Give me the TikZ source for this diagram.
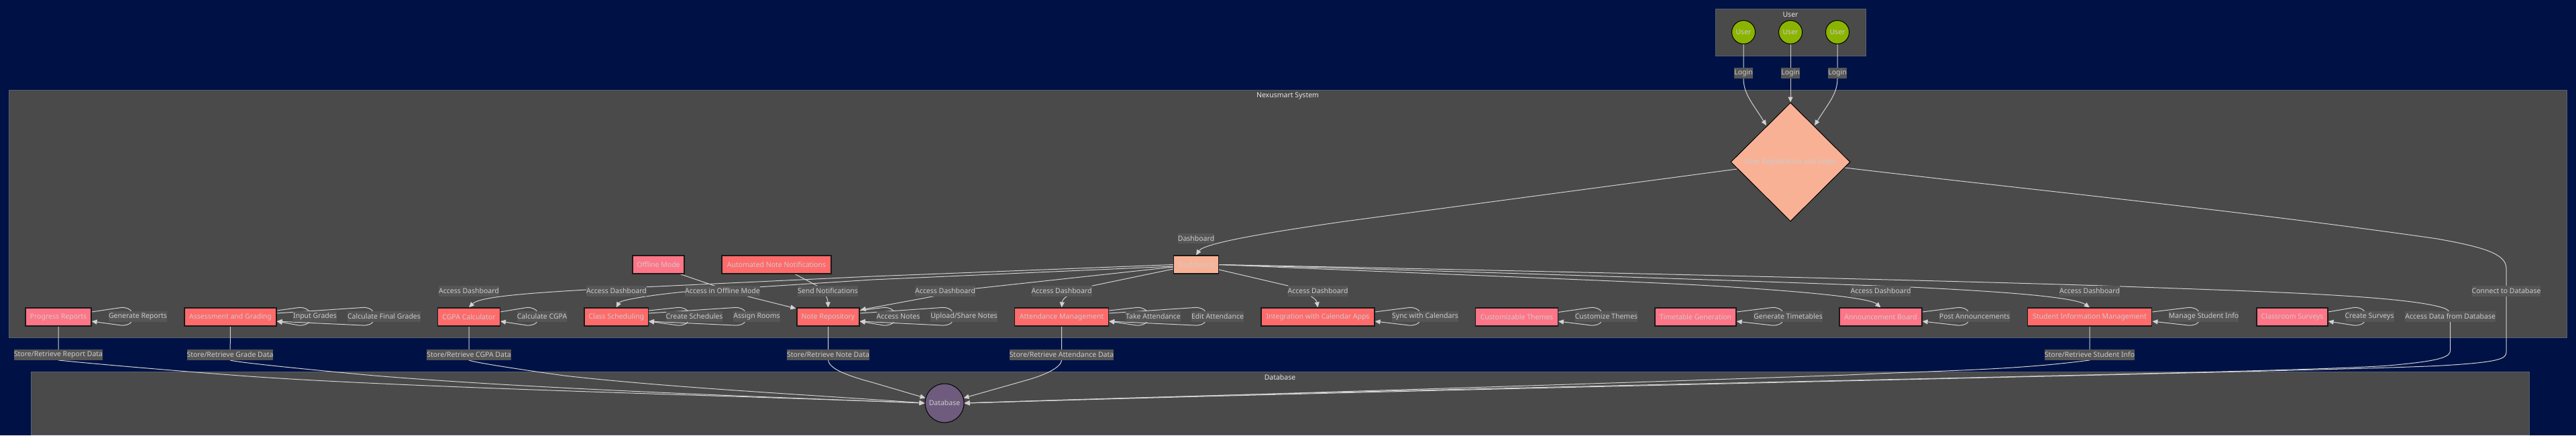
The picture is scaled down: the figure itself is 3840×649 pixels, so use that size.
\documentclass[tikz,border=0pt]{standalone}
\usepackage{fontspec}
\setmainfont{Noto Sans}
\usetikzlibrary{shapes.geometric,arrows.meta,calc}
\definecolor{bgblue}{HTML}{001245}
\definecolor{clfill}{HTML}{494A49}
\definecolor{clline}{HTML}{586070}
\definecolor{edgec}{HTML}{D2D2D2}
\definecolor{txt}{HTML}{CCCCCC}
\definecolor{lblfill}{HTML}{565656}
\definecolor{red1}{HTML}{FF6B6B}
\definecolor{pink1}{HTML}{FF7588}
\definecolor{peach}{HTML}{F9B196}
\definecolor{grn}{HTML}{8AB400}
\definecolor{purp}{HTML}{6E5B7E}
\pgfdeclarelayer{bg}
\pgfdeclarelayer{edges}
\pgfsetlayers{bg,edges,main}
\tikzset{
  cluster/.style={draw=clline,fill=clfill,line width=0.8pt},
  ctitle/.style={text=white!90!black,font=\fontsize{10.5}{12}\selectfont,inner sep=0pt},
  box/.style={draw=black!90,line width=1.2pt,minimum height=27pt,inner sep=0pt,text=txt,font=\fontsize{10.5}{12}\selectfont},
  redbox/.style={box,fill=red1},
  pinkbox/.style={box,fill=pink1},
  peachbox/.style={box,fill=peach},
  roundn/.style={circle,draw=black,line width=1pt,inner sep=0pt,text=txt,font=\fontsize{10.5}{12}\selectfont},
  lbl/.style={fill=lblfill,text=txt,inner xsep=0pt,inner ysep=0pt,minimum height=15.5pt,font=\fontsize{10.5}{12}\selectfont},
  edge/.style={draw=edgec,line width=1pt},
  arr/.style={edge,-{Triangle[length=8pt,width=7pt,fill=edgec]}}
}
% self loop: node, label, turn offset, start offset
\newcommand{\sloop}[4]{%
  \draw[arr] ($(#1.east)+(0,#4)$) -- ($(#2.center)+(#3-16,-13.5)$)
    .. controls ($(#2.center)+(#3-8,-14)$) and ($(#2.center)+(#3-2,-11)$) .. ($(#2.center)+(#3,-7)$)
    -- ($(#2.center)+(#3,7)$)
    .. controls ($(#2.center)+(#3-2,11)$) and ($(#2.center)+(#3-8,13.5)$) .. ($(#2.center)+(#3-16,13)$)
    -- ($(#1.east)+(0,6.5)$);}
\begin{document}
\begin{tikzpicture}[x=1pt,y=-1pt]
\useasboundingbox (0,0) rectangle (3840,649);
\begin{pgfonlayer}{bg}
  \fill[bgblue] (0,0) rectangle (3840,649);
  \draw[cluster] (2557,13) rectangle (2781,83);
  \draw[cluster] (13,134) rectangle (3826,503);
  \draw[cluster] (46,554) rectangle (3770,648);
\end{pgfonlayer}
\node[ctitle] (tu) at (2669,22) {User};
\node[ctitle] (tn) at (1919.5,143) {Nexusmart System};
\node[ctitle] (td) at (1908,563) {Database};
% users
\foreach \n/\x in {u1/2599,u2/2669,u3/2739}
  \node[roundn,fill=grn,minimum size=35pt] (\n) at (\x,48) {User};
\node[lbl] (lu1) at (2599,109) {Login};
\node[lbl] (lu2) at (2669,109) {Login};
\node[lbl] (lu3) at (2739,109) {Login};
% diamond
\node[diamond,draw=black,line width=1pt,fill=peach,inner sep=0pt,minimum width=178pt,minimum height=177pt,text=txt,font=\fontsize{10.5}{12}\selectfont] (dm) at (2669,241.5) {User Registration and Login};
% boxes
\node[peachbox,minimum width=67pt] (dash) at (1783,394.5) {Dashboard};
\node[pinkbox,minimum width=77pt] (of) at (981.5,394.5) {Offline Mode};
\node[redbox,minimum width=163pt] (an) at (1157.5,394.5) {Automated Note Notifications};
\node[pinkbox,minimum width=98pt] (pr) at (87,472.5) {Progress Reports};
\node[redbox,minimum width=137pt] (ag) at (343.5,472.5) {Assessment and Grading};
\node[redbox,minimum width=92.5pt] (cg) at (699,472.5) {CGPA Calculator};
\node[redbox,minimum width=95.5pt] (cs) at (918.7,472.5) {Class Scheduling};
\node[redbox,minimum width=93pt] (nr) at (1234.5,472.5) {Note Repository};
\node[redbox,minimum width=140pt] (am) at (1582.6,472.5) {Attendance Management};
\node[redbox,minimum width=169pt] (in) at (1964.5,472.5) {Integration with Calendar Apps};
\node[pinkbox,minimum width=122.5pt] (ct) at (2261,472.5) {Customizable Themes};
\node[pinkbox,minimum width=121pt] (tg) at (2527.5,472.5) {Timetable Generation};
\node[pinkbox,minimum width=123pt] (ab) at (2803.5,472.5) {Announcement Board};
\node[redbox,minimum width=185.7pt] (si) at (3115,472.5) {Student Information Management};
\node[pinkbox,minimum width=106pt] (su) at (3417,472.5) {Classroom Surveys};
\node[roundn,fill=purp,minimum size=58pt] (dbc) at (1408,601) {Database};
% labels
\node[lbl] (ldm) at (1783,355.5) {Dashboard};
\node[lbl] (ladc) at (699,434) {Access Dashboard};
\node[lbl] (lads) at (919,434) {Access Dashboard};
\node[lbl] (loff) at (1077,434) {Access in Offline Mode};
\node[lbl] (lsn) at (1234,434) {Send Notifications};
\node[lbl] (ladn) at (1409,434) {Access Dashboard};
\node[lbl] (lada) at (1582.6,434) {Access Dashboard};
\node[lbl] (ladi) at (1964.5,434) {Access Dashboard};
\node[lbl] (ladb) at (2803.5,434) {Access Dashboard};
\node[lbl] (ladsi) at (3115,434) {Access Dashboard};
\node[lbl] (lcdb) at (3736,434) {Connect to Database};
\node[lbl] (ldfd) at (3652.6,472) {Access Data from Database};
\node[lbl] (lgr) at (205.5,472) {Generate Reports};
\node[lbl] (lig) at (469.5,472) {Input Grades};
\node[lbl] (lcf) at (572.5,472) {Calculate Final Grades};
\node[lbl] (lcc) at (808,472) {Calculate CGPA};
\node[lbl] (lcrs) at (1035,472) {Create Schedules};
\node[lbl] (lar) at (1128,472) {Assign Rooms};
\node[lbl] (lan) at (1339,472) {Access Notes};
\node[lbl] (lus) at (1437,472) {Upload/Share Notes};
\node[lbl] (lta) at (1719,472) {Take Attendance};
\node[lbl] (lea) at (1815,472) {Edit Attendance};
\node[lbl] (lsc) at (2124.5,472) {Sync with Calendars};
\node[lbl] (lct) at (2394.5,472) {Customize Themes};
\node[lbl] (lgt) at (2665.5,472) {Generate Timetables};
\node[lbl] (lpa) at (2943.5,472) {Post Announcements};
\node[lbl] (lms) at (3285,472) {Manage Student Info};
\node[lbl] (lcsv) at (3532,472) {Create Surveys};
\node[lbl] (srr) at (87,529) {Store/Retrieve Report Data};
\node[lbl] (srg) at (343,529) {Store/Retrieve Grade Data};
\node[lbl] (src) at (699,529) {Store/Retrieve CGPA Data};
\node[lbl] (srn) at (1234.5,529) {Store/Retrieve Note Data};
\node[lbl] (sra) at (1582.6,529) {Store/Retrieve Attendance Data};
\node[lbl] (srs) at (3115,529) {Store/Retrieve Student Info};
\begin{pgfonlayer}{edges}
% logins
\draw[arr] (u2.south) -- (dm.north);
\draw[arr] (u1.south) -- (lu1.south) .. controls (2599,140) and (2612,153) .. ($(dm.center)+(-36,-54.5)$);
\draw[arr] (u3.south) -- (lu3.south) .. controls (2739,140) and (2726,153) .. ($(dm.center)+(36,-54.5)$);
% diamond -> dashboard
\draw[arr] ($(dm.center)+(-80,10.5)$) -- (2005,330) .. controls (1900,345) and (1795,362) .. (dash.north);
% diamond -> database
\draw[arr] ($(dm.center)+(81,8.5)$) .. controls (3000,280) and (3350,315) .. (3633,356)
  .. controls (3700,368) and (3736,378) .. (3736,400) -- (3736,525)
  .. controls (3736,535) and (3725,540) .. (3640,545)
  .. controls (3500,553) and (2200,578) .. (dbc.east);
% dashboard left
\draw[arr] (dash.west) -- (1300,412) -- (873,432) .. controls (790,437) and (715,442) .. (cg.north);
\draw[arr] ($(dash.west)+(0,2.5)$) -- (1300,417) -- (1020,435) .. controls (970,440) and (925,447) .. (cs.north);
\draw[arr] ($(dash.west)+(0,3.5)$) -- (1455,430) -- ($(nr.east)+(1,-10.5)$);
\draw[arr] ($(dash.west)+(0,6.5)$) -- (1628.6,426) .. controls (1600,436) and (1584,442) .. (am.north);
% dashboard right
\draw[arr] ($(dash.east)+(0,7.5)$) -- (1920,426) .. controls (1945,436) and (1962,444) .. (in.north);
\draw[arr] (dash.east) .. controls (2200,411) and (2450,420) .. (2550,426) .. controls (2650,432) and (2785,442) .. (ab.north);
\draw[arr] (dash.east) .. controls (2300,408) and (2700,422) .. (2848,428) .. controls (2950,433) and (3090,441) .. (si.north);
\draw[arr] (dash.east) .. controls (2400,406) and (3000,421) .. (3163,427)
  .. controls (3350,434) and (3590,440) .. (3645,460) .. controls (3651,463) and (3652.6,466) .. (3652.6,472) -- (3652.6,522)
  .. controls (3652.6,532) and (3640,538) .. (3560,545)
  .. controls (3400,557) and (2200,575) .. (dbc.east);
% offline, notifications
\draw[arr] (of.south -| 1014,0) -- (1062,425) -- (1111,441) -- ($(nr.north west)+(-1,1.5)$);
\draw[arr] (an.south -| 1185,0) -- (1218,426) .. controls (1228,432) and (1234,445) .. (nr.north);
% loops
\sloop{pr}{lgr}{-9}{-7.5}
\sloop{ag}{lig}{-8}{-9.5}
\sloop{ag}{lcf}{-16}{-5.5}
\sloop{cg}{lcc}{-7}{-7.5}
\sloop{cs}{lcrs}{-9}{-9.5}
\sloop{cs}{lar}{-17}{-5.5}
\sloop{nr}{lan}{-6}{-9.5}
\sloop{nr}{lus}{-17}{-5.5}
\sloop{am}{lta}{-9}{-9.5}
\sloop{am}{lea}{-18}{-5.5}
\sloop{in}{lsc}{-8}{-7.5}
\sloop{ct}{lct}{-7}{-7}
\sloop{tg}{lgt}{-8}{-7.5}
\sloop{ab}{lpa}{-9}{-7.5}
\sloop{si}{lms}{-7}{-7.5}
\sloop{su}{lcsv}{-7}{-7.5}
% to database
\draw[arr] (pr.south) -- (srr.south) .. controls (95,538) and (200,548) .. (357,560) .. controls (600,578) and (1100,590) .. (dbc.west);
\draw[arr] (ag.south) -- (srg.south) .. controls (352,540) and (450,550) .. (558,560) .. controls (800,580) and (1150,592) .. (dbc.west);
\draw[arr] (cg.south) -- (src.south) .. controls (705,540) and (770,550) .. (841,560) .. controls (1000,578) and (1200,588) .. (dbc.west);
\draw[arr] (nr.south) -- (srn.south) .. controls (1236,548) and (1255,558) .. (1300,570) -- (dbc.165);
\draw[arr] (am.south) -- (sra.south) .. controls (1581,548) and (1560,558) .. (1533,566) -- (dbc.15);
\draw[arr] (si.south) -- (srs.south) .. controls (3000,552) and (2900,552) .. (2754,559) .. controls (2300,575) and (1800,590) .. (dbc.east);
\end{pgfonlayer}
\end{tikzpicture}
\end{document}
